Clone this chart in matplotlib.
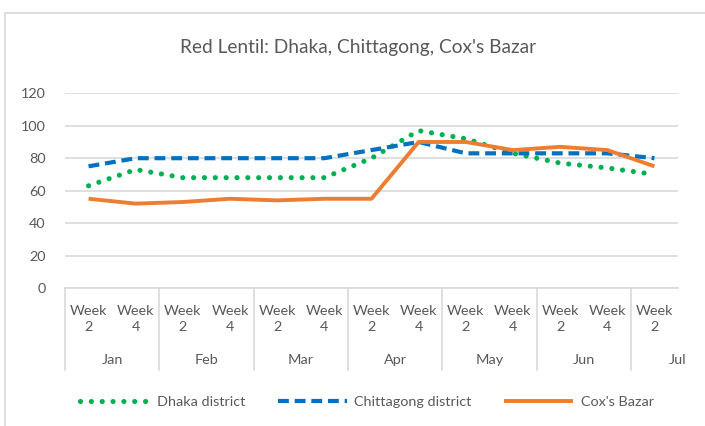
import matplotlib
matplotlib.use("Agg")
import matplotlib.pyplot as plt
from matplotlib.patches import Rectangle
from matplotlib.transforms import blended_transform_factory

plt.rcParams["font.family"] = ["Lato", "DejaVu Sans"]

# --- Data ---
months = ["Jan", "Feb", "Mar", "Apr", "May", "Jun", "Jul"]
weeks = ["Week\n2", "Week\n4"] * 6 + ["Week\n2"]
dhaka = [63, 73, 68, 68, 68, 68, 80, 97, 92, 83, 77, 74, 70]
chittagong = [75, 80, 80, 80, 80, 80, 85, 90, 83, 83, 83, 83, 80]
coxs_bazar = [55, 52, 53, 55, 54, 55, 55, 90, 90, 85, 87, 85, 75]

GREEN = "#00B050"
BLUE = "#0070C0"
ORANGE = "#ED7D31"
GRID = "#D9D9D9"
TEXT = "#595959"
FS = 10.4

W, H = 705, 426
fig = plt.figure(figsize=(W / 100, H / 100), dpi=100)

# chart border
fig.add_artist(Rectangle((5 / W, -0.05), 1.1, 1 - 13 / H + 0.05,
                         transform=fig.transFigure, fill=False,
                         edgecolor=GRID, linewidth=1.2))

left, right, top, bottom = 65, 678, 93.3, 288
ax = fig.add_axes([left / W, 1 - bottom / H, (right - left) / W, (bottom - top) / H])

x = list(range(len(weeks)))
ax.plot(x, dhaka, color=GREEN, linewidth=3.7, linestyle=(0, (0.01, 2.1)),
        dash_capstyle="round", label="Dhaka district", zorder=3)
ax.plot(x, chittagong, color=BLUE, linewidth=3.0, linestyle=(0, (2.6, 1.4)),
        dash_capstyle="butt", label="Chittagong district", zorder=3)
ax.plot(x, coxs_bazar, color=ORANGE, linewidth=2.8, solid_capstyle="butt",
        label="Cox's Bazar", zorder=4)

ax.set_xlim(-0.5, len(weeks) - 0.5)
ax.set_ylim(0, 120)
ax.set_yticks(range(0, 121, 20))
ax.yaxis.grid(True, color=GRID, linewidth=1.2)
ax.set_axisbelow(True)
for s in ["top", "right", "left"]:
    ax.spines[s].set_visible(False)
ax.spines["bottom"].set_color(GRID)
ax.spines["bottom"].set_linewidth(1.2)
ax.tick_params(axis="y", length=0, pad=14, labelsize=FS, labelcolor=TEXT)
ax.set_xticks([])

# multi-level category axis
tr = blended_transform_factory(ax.transData, ax.transAxes)
px = 1.0 / (bottom - top)
for i, lab in enumerate(weeks):
    ax.text(i, -(319 - bottom) * px, lab, transform=tr, ha="center", va="center",
            fontsize=FS, color=TEXT, linespacing=1.45)
for b in range(0, len(weeks), 2):
    ax.plot([b - 0.5, b - 0.5], [0, -(370 - bottom) * px], transform=tr,
            color=GRID, linewidth=1.2, clip_on=False)
for m, name in enumerate(months):
    cx = 2 * m + 0.5 if m < 6 else len(weeks) - 0.5
    ax.text(cx, -(360 - bottom) * px, name, transform=tr, ha="center", va="center",
            fontsize=FS, color=TEXT)

fig.text(358 / W, 1 - 48 / H, "Red Lentil: Dhaka, Chittagong, Cox's Bazar",
         ha="center", va="center", fontsize=13.8, color=TEXT)

leg = fig.legend(loc="center", bbox_to_anchor=(367 / W, 1 - 402 / H), ncol=3,
                 frameon=False, fontsize=FS, handlelength=4.8, handletextpad=0.5,
                 columnspacing=2.25)
for t in leg.get_texts():
    t.set_color(TEXT)

fig.savefig("out.png", dpi=100)
